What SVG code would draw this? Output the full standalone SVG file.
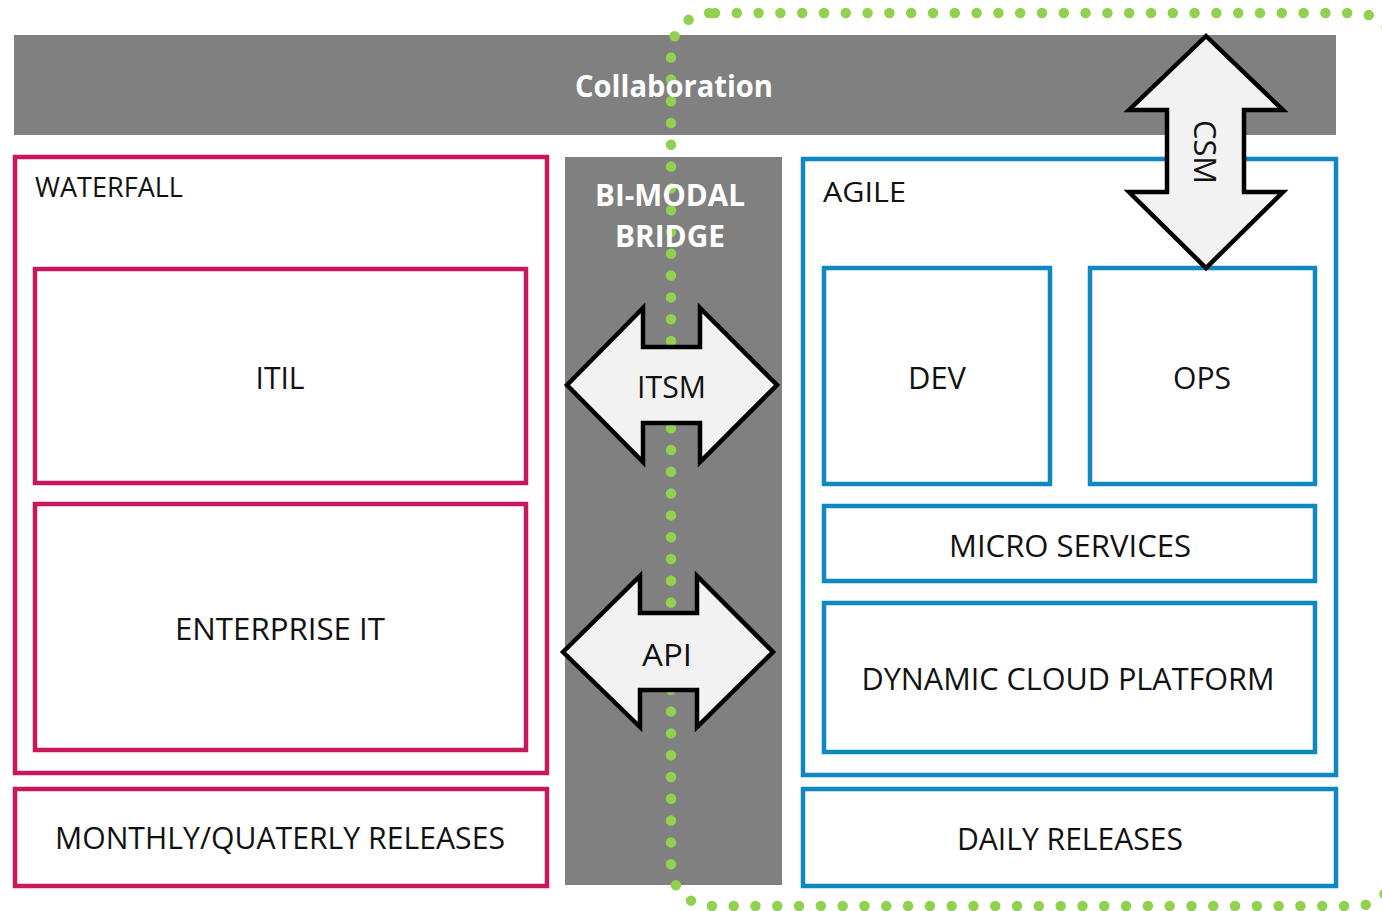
<svg xmlns="http://www.w3.org/2000/svg" width="1382" height="911" viewBox="0 0 1382 911">
<style>
  .bg{fill:#ffffff}
  .gray{fill:#808080}
  .wf{fill:none;stroke:#C8175D;stroke-width:4.5}
  .ag{fill:none;stroke:#0F88C2;stroke-width:4.5}
  .lbl{font-family:"Open Sans","Noto Sans",sans-serif;font-size:31px;fill:#111111;text-anchor:middle}
  .hdr{font-family:"Open Sans","Noto Sans",sans-serif;font-size:28px;fill:#111111}
  .wh{font-family:"Open Sans","Noto Sans",sans-serif;font-weight:bold;fill:#ffffff;text-anchor:middle}
  .arrow{fill:#F2F2F2;stroke:#000000;stroke-width:4.5;stroke-linejoin:miter}
  .dots{fill:none;stroke:#92D050;stroke-width:10.5;stroke-linecap:round;stroke-dasharray:0 21.8}
</style>
<rect class="bg" x="0" y="0" width="1382" height="911"/>

<g id="collaboration-bar">
  <rect class="gray" x="14" y="35" width="1322" height="100"/>
</g>
<g id="bimodal-bridge">
  <rect class="gray" x="565" y="157" width="217" height="728"/>
</g>

<g id="waterfall">
  <rect class="wf" x="15" y="157" width="532" height="616"/>
  <text class="hdr" x="35" y="197" textLength="148" lengthAdjust="spacingAndGlyphs">WATERFALL</text>
</g>
<g id="itil">
  <rect class="wf" x="35" y="269" width="491" height="214"/>
  <text class="lbl" x="280" y="389" textLength="49" lengthAdjust="spacingAndGlyphs">ITIL</text>
</g>
<g id="enterprise-it">
  <rect class="wf" x="35" y="504" width="491" height="246"/>
  <text class="lbl" x="280" y="640" textLength="210" lengthAdjust="spacingAndGlyphs">ENTERPRISE IT</text>
</g>
<g id="monthly-releases">
  <rect class="wf" x="15" y="789" width="532" height="97"/>
  <text class="lbl" x="280" y="849" textLength="450" lengthAdjust="spacingAndGlyphs">MONTHLY/QUATERLY RELEASES</text>
</g>

<g id="agile">
  <rect class="ag" x="803" y="159" width="533" height="616"/>
  <text class="hdr" x="823" y="202" textLength="83" lengthAdjust="spacingAndGlyphs">AGILE</text>
</g>
<g id="dev">
  <rect class="ag" x="824" y="268" width="226" height="216"/>
  <text class="lbl" x="937" y="389" textLength="58" lengthAdjust="spacingAndGlyphs">DEV</text>
</g>
<g id="ops">
  <rect class="ag" x="1090" y="268" width="225" height="216"/>
  <text class="lbl" x="1202" y="389" textLength="58" lengthAdjust="spacingAndGlyphs">OPS</text>
</g>
<g id="micro-services">
  <rect class="ag" x="824" y="506" width="491" height="75"/>
  <text class="lbl" x="1070" y="557" textLength="242" lengthAdjust="spacingAndGlyphs">MICRO SERVICES</text>
</g>
<g id="dynamic-cloud-platform">
  <rect class="ag" x="824" y="603" width="491" height="149"/>
  <text class="lbl" x="1068" y="690" textLength="413" lengthAdjust="spacingAndGlyphs">DYNAMIC CLOUD PLATFORM</text>
</g>
<g id="daily-releases">
  <rect class="ag" x="803" y="789" width="533" height="97"/>
  <text class="lbl" x="1070" y="850" textLength="226" lengthAdjust="spacingAndGlyphs">DAILY RELEASES</text>
</g>

<g id="connectors">
  <path class="dots" d="M 715 13 H 1356 A 40 40 0 0 1 1396 53 V 866 A 40 40 0 0 1 1356 906 H 711 A 40 40 0 0 1 671 866 V 53 A 40 40 0 0 1 711 13 Z"/>
</g>

<g id="labels-gray">
  <text class="wh" x="674" y="97" font-size="31" textLength="198" lengthAdjust="spacingAndGlyphs">Collaboration</text>
  <text class="wh" x="670" y="206" font-size="30" textLength="150" lengthAdjust="spacingAndGlyphs">BI-MODAL</text>
  <text class="wh" x="670" y="247" font-size="30" textLength="110" lengthAdjust="spacingAndGlyphs">BRIDGE</text>
</g>

<g id="itsm">
  <polygon class="arrow" points="567,385 643,308 643,347 700,347 700,308 777,385 700,462 700,423 643,423 643,462"/>
  <text class="lbl" x="671.5" y="398" textLength="69" lengthAdjust="spacingAndGlyphs">ITSM</text>
</g>
<g id="api">
  <polygon class="arrow" points="563,652 640,576 640,613 697,613 697,576 773,652 697,727 697,690 640,690 640,727"/>
  <text class="lbl" x="667" y="666" textLength="50" lengthAdjust="spacingAndGlyphs">API</text>
</g>
<g id="csm">
  <polygon class="arrow" points="1206,36 1283,110 1244,110 1244,192 1283,192 1206,268 1129,192 1167,192 1167,110 1129,110"/>
  <text class="lbl" transform="translate(1205,152) rotate(90)" x="0" y="11" textLength="64" lengthAdjust="spacingAndGlyphs">CSM</text>
</g>
</svg>
